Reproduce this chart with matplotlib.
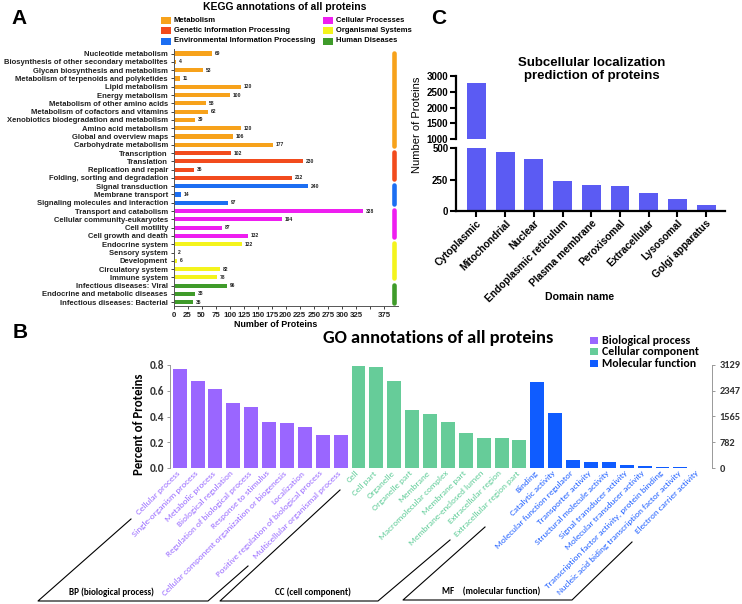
import numpy as np
import matplotlib
matplotlib.use('Agg')
import matplotlib.pyplot as plt
import matplotlib.patches as mpatches
import matplotlib.transforms as mtransforms
from matplotlib.lines import Line2D
from matplotlib import font_manager as fm

names = {f.name for f in fm.fontManager.ttflist}
ARIAL = 'Liberation Sans'
if 'Liberation Sans Narrow' in names:
    NARROW, NS = 'Liberation Sans Narrow', 1.0
else:
    NARROW, NS = ARIAL, 0.84
CAL = 'Carlito' if 'Carlito' in names else 'Lato'

# ---------------- data ----------------
kegg_terms = [
    'Nucleotide metabolism', 'Biosynthesis of other secondary metabolites',
    'Glycan biosynthesis and metabolism', 'Metabolism of terpenoids and polyketides',
    'Lipid metabolism', 'Energy metabolism', 'Metabolism of other amino acids',
    'Metabolism of cofactors and vitamins', 'Xenobiotics biodegradation and metabolism',
    'Amino acid metabolism', 'Global and overview maps', 'Carbohydrate metabolism',
    'Transcription', 'Translation', 'Replication and repair',
    'Folding, sorting and degradation', 'Signal transduction', 'Membrane transport',
    'Signaling molecules and interaction', 'Transport and catabolism',
    'Cellular community-eukaryotes', 'Cell motility', 'Cell growth and death',
    'Endocrine system', 'Sensory system', 'Development', 'Circulatory system',
    'Immune system', 'Infectious diseases: Viral', 'Endocrine and metabolic diseases',
    'Infectious diseases: Bacterial']
kegg_counts = [69, 4, 53, 11, 120, 100, 58, 62, 39, 120, 106, 177,
               102, 230, 36, 212, 240, 14, 97, 338, 194, 87, 132,
               122, 2, 6, 82, 78, 96, 38, 35]
kegg_groups = (['Metabolism'] * 12 + ['Genetic Information Processing'] * 4 +
               ['Environmental Information Processing'] * 3 + ['Cellular Processes'] * 4 +
               ['Organismal Systems'] * 5 + ['Human Diseases'] * 3)
group_names = ['Metabolism', 'Genetic Information Processing',
               'Environmental Information Processing', 'Cellular Processes',
               'Organismal Systems', 'Human Diseases']
group_colors = ['#f7a21b', '#f24b1d', '#1c6ef2', '#ee1ef0', '#f4f41c', '#3f9b2a']
kegg_xticks = [0, 25, 50, 75, 100, 125, 150, 175, 200, 225, 250, 275, 300, 325, 350, 375]
kegg_xticklabels = ['0', '25', '50', '75', '100', '125', '150', '175', '200', '225',
                    '250', '275', '300', '325', '', '375']

loc_names = ['Cytoplasmic', 'Mitochondrial', 'Nuclear', 'Endoplasmic reticulum',
             'Plasma membrane', 'Peroxisomal', 'Extracellular', 'Lysosomal',
             'Golgi apparatus']
loc_counts = [2768, 473, 414, 239, 205, 194, 140, 92, 43]

bp_terms = ['Cellular process', 'Single-organism process', 'Metabolic process',
            'Biological regulation', 'Regulation of biological process',
            'Response to stimulus', 'Cellular component organization or biogenesis',
            'Localization', 'Positive regulation of biological process',
            'Multicellular organismal process']
bp_vals = [0.769, 0.676, 0.617, 0.506, 0.470, 0.356, 0.348, 0.317, 0.253, 0.253]
cc_terms = ['Cell', 'Cell part', 'Organelle', 'Organelle part', 'Membrane',
            'Macromolecular complex', 'Membrane part', 'Membrane-enclosed lumen',
            'Extracellular region', 'Extracellular region part']
cc_vals = [0.792, 0.787, 0.679, 0.454, 0.417, 0.357, 0.275, 0.236, 0.233, 0.215]
mf_terms = ['Binding', 'Catalytic activity', 'Molecular function regulator',
            'Transporter activity', 'Structural molecule activity',
            'Signal transducer activity', 'Molecular transducer activity',
            'Transcription factor activity, protein binding',
            'Nucleic acid biding transcription factor activity',
            'Electron carrier activity']
mf_vals = [0.671, 0.428, 0.066, 0.050, 0.047, 0.021, 0.013, 0.010, 0.010, 0.003]
go_cat_names = ['Biological process', 'Cellular component', 'Molecular function']
go_colors = ['#9a66ff', '#66cc99', '#0f5cff']
go_label_colors = ['#9a6cff', '#5fcc98', '#2060ff']
go_left_ticks = [0.0, 0.2, 0.4, 0.6, 0.8]
go_right_ticks = [0, 782, 1565, 2347, 3129]
go_bracket_labels = ['BP (biological process)', 'CC (cell component)',
                     'MF    (molecular function)']

# ---------------- figure ----------------
W, H = 742, 604
fig = plt.figure(figsize=(W / 100, H / 100), dpi=100)
fig.patch.set_facecolor('white')


def rect(l, t, r, b):
    return [l / W, 1 - b / H, (r - l) / W, (b - t) / H]


def fx(x):
    return x / W


def fy(y):
    return 1 - y / H


# panel letters
for letter, (px, py) in zip(['A', 'B', 'C'], [(19, 19), (20, 332), (439, 18)]):
    fig.text(fx(px), fy(py), letter, fontsize=15, fontweight='bold', family=ARIAL,
             ha='center', va='center')

# ---------------- Panel A ----------------
axA = fig.add_axes(rect(173.5, 49, 398, 306))
ypos = np.arange(len(kegg_terms))
colsA = [group_colors[group_names.index(g)] for g in kegg_groups]
axA.barh(ypos, kegg_counts, height=0.5, color=colsA)
axA.set_xlim(0, 400)
axA.set_ylim(len(kegg_terms) - 0.55, -0.55)
axA.set_yticks(ypos)
axA.set_yticklabels(kegg_terms, fontsize=6.6 * NS, fontweight='bold', family=NARROW)
axA.set_xticks(kegg_xticks)
axA.set_xticklabels(kegg_xticklabels, fontsize=6.8 * NS, fontweight='bold', family=NARROW)
axA.tick_params(axis='y', length=2, width=0.6, pad=2, colors='#222222')
axA.tick_params(axis='x', length=2, width=0.6, pad=2, colors='#222222')
for s in ['top', 'right']:
    axA.spines[s].set_visible(False)
for s in ['left', 'bottom']:
    axA.spines[s].set_linewidth(0.7)
    axA.spines[s].set_color('#555555')
fig.text(fx(276), fy(324.5), 'Number of Proteins', fontsize=7.6 * NS, fontweight='bold',
         family=NARROW, ha='center', va='center')
for i, v in enumerate(kegg_counts):
    axA.text(v + 5, i, str(v), fontsize=3.6, fontweight='bold', family=ARIAL,
             va='center', ha='left', color='#222222')
# group indicator bars
for g, c in zip(group_names, group_colors):
    idx = [i for i, gg in enumerate(kegg_groups) if gg == g]
    axA.plot([392, 392], [idx[0] - 0.1, idx[-1] + 0.1], color=c, lw=3.3,
             solid_capstyle='round', clip_on=False)

fig.text(fx(284.5), fy(7), 'KEGG annotations of all proteins', fontsize=8.9 * NS,
         fontweight='bold', family=NARROW, ha='center', va='center')
leg_pos = [(161, 20), (161, 30.5), (161, 41), (323, 20), (323, 30.5), (323, 41)]
for (lx, ly), g, c in zip(leg_pos, group_names, group_colors):
    fig.add_artist(mpatches.Rectangle((fx(lx), fy(ly + 3.5)), 10 / W, 7 / H,
                                      transform=fig.transFigure, color=c, lw=0))
    fig.text(fx(lx + 13), fy(ly), g, fontsize=6.6 * NS, fontweight='bold', family=NARROW,
             ha='left', va='center')

# ---------------- Panel C ----------------
LOCC = '#5b5bf3'
axCu = fig.add_axes(rect(456, 76, 725, 139))
axCl = fig.add_axes(rect(456, 148.3, 725, 210.7))
xc = np.arange(len(loc_names))
for ax in (axCu, axCl):
    ax.bar(xc, loc_counts, width=0.66, color=LOCC)
    ax.set_xlim(-0.714, 8.66)
    for s in ['top', 'right']:
        ax.spines[s].set_visible(False)
    ax.spines['left'].set_linewidth(1.6)
    ax.spines['bottom'].set_linewidth(1.6)
    ax.tick_params(axis='both', length=4, width=1.5, pad=1.5, labelsize=7)
axCu.set_ylim(1000, 3000)
axCu.set_yticks([1000, 1500, 2000, 2500, 3000])
axCu.spines['bottom'].set_visible(False)
axCu.tick_params(axis='x', bottom=False, labelbottom=False)
axCl.set_ylim(0, 500)
axCl.set_yticks([0, 250, 500])
for ax in (axCu, axCl):
    for lab in ax.get_yticklabels():
        lab.set_fontweight('bold')
        lab.set_family(ARIAL)
axCl.set_xticks(xc)
axCl.set_xticklabels(loc_names, rotation=45, ha='right', rotation_mode='anchor',
                     fontsize=7.3, fontweight='bold', family=ARIAL)
fig.text(fx(580), fy(297), 'Domain name', fontsize=7.6, fontweight='bold', family=ARIAL,
         ha='center', va='center')
fig.text(fx(417), fy(125), 'Number of Proteins', fontsize=8, family=ARIAL,
         rotation=90, ha='center', va='center')
fig.text(fx(592), fy(69.5), 'Subcellular localization\nprediction of proteins',
         fontsize=9.5, fontweight='bold', family=ARIAL, ha='center', va='center',
         linespacing=1.1)

# ---------------- Panel B ----------------
axB = fig.add_axes(rect(170, 365, 711.7, 468))
go_terms = bp_terms + cc_terms + mf_terms
go_vals = bp_vals + cc_vals + mf_vals
go_cat = [0] * len(bp_terms) + [1] * len(cc_terms) + [2] * len(mf_terms)
xg = np.arange(len(go_terms))
axB.bar(xg, go_vals, width=0.78, color=[go_colors[c] for c in go_cat])
axB.set_xlim(-0.54, 29.75)
axB.set_ylim(0, 0.8)
axB.set_yticks(go_left_ticks)
axB.set_yticklabels(['%.1f' % t for t in go_left_ticks], fontsize=8, family=CAL,
                    fontweight='bold', color='#333333')
axB.tick_params(axis='y', length=2.5, width=0.6, color='#888888', pad=2)
axB.set_xticks([])
for s in ['top', 'bottom', 'right']:
    axB.spines[s].set_visible(False)
axB.spines['left'].set_color('#999999')
axB.spines['left'].set_linewidth(0.7)
fig.text(fx(139), fy(424), 'Percent of Proteins', fontsize=9.2, fontweight='bold',
         family=CAL, rotation=90, ha='center', va='center')
axB2 = axB.twinx()
axB2.set_ylim(0, go_right_ticks[-1])
axB2.set_yticks(go_right_ticks)
axB2.set_yticklabels([str(t) for t in go_right_ticks], fontsize=7.5, family=CAL,
                     fontweight='bold', color='#333333')
axB2.tick_params(axis='y', length=2.5, width=0.6, color='#888888', pad=3)
for s in ['top', 'bottom', 'left']:
    axB2.spines[s].set_visible(False)
axB2.spines['right'].set_color('#999999')
axB2.spines['right'].set_linewidth(0.7)

trans = mtransforms.blended_transform_factory(axB.transData, axB.transAxes)
for i, (t, c) in enumerate(zip(go_terms, go_cat)):
    axB.text(i - 0.05, -0.04, t, transform=trans, rotation=45, rotation_mode='anchor',
             ha='right', va='center', fontsize=6.6, family=CAL, color=go_label_colors[c])

fig.text(fx(438), fy(338), 'GO annotations of all proteins', fontsize=13.2,
         fontweight='bold', family=CAL, ha='center', va='center')
for k, (nm, c) in enumerate(zip(go_cat_names, go_colors)):
    yy = 340 + 11.7 * k
    fig.add_artist(mpatches.Rectangle((fx(590), fy(yy + 3.5)), 8 / W, 7 / H,
                                      transform=fig.transFigure, color=c, lw=0))
    fig.text(fx(602), fy(yy), nm, fontsize=8.6, fontweight='bold', family=CAL,
             ha='left', va='center')

# brackets
brackets = [
    [(131, 519), (38, 601), (208, 601), (248, 566)],
    [(340, 490), (220, 601), (378, 601), (450, 540)],
    [(485, 527), (403, 600), (572, 600), (632, 542)],
]
for pts in brackets:
    xs = [fx(p[0]) for p in pts]
    ys = [fy(p[1]) for p in pts]
    fig.add_artist(Line2D(xs, ys, transform=fig.transFigure, color='black', lw=0.8))
for lbl, (px, py) in zip(go_bracket_labels, [(111, 592), (313, 592), (491, 592)]):
    fig.text(fx(px), fy(py), lbl, fontsize=6.6, fontweight='bold', family=CAL,
             ha='center', va='center')

fig.savefig('out.png', dpi=100, facecolor='white')
